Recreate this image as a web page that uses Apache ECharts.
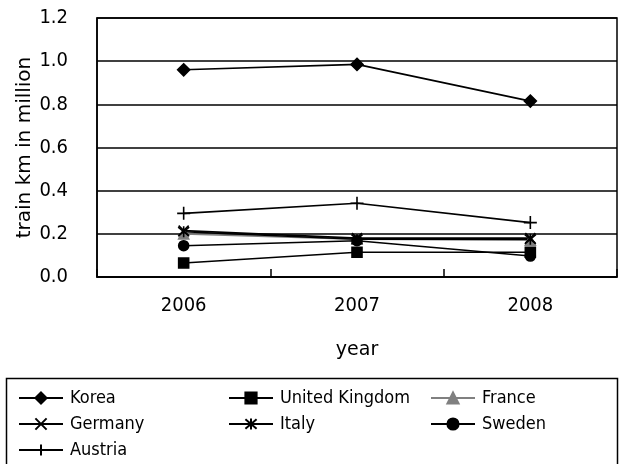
<!DOCTYPE html>
<html>
<head>
<meta charset="utf-8">
<script src="https://cdn.jsdelivr.net/npm/echarts@6/dist/echarts.min.js"></script>
<style>
  html, body { margin: 0; padding: 0; background: #fff; }
  #chart { width: 621px; height: 464px; }
</style>
</head>
<body>
<div id="chart"></div>
<script>
// Train-km (million) per country, 2006-2008
const years = ['2006', '2007', '2008'];
const korea = [0.96, 0.985, 0.815];
const unitedKingdom = [0.065, 0.115, 0.115];
const france = [0.2, 0.175, 0.17];
const germany = [0.215, 0.18, 0.18];
const italy = [0.21, 0.175, 0.175];
const sweden = [0.145, 0.168, 0.097];
const austria = [0.295, 0.342, 0.252];

const narrow = '"DejaVu Sans Condensed", "Liberation Sans", sans-serif';
const wide = '"DejaVu Sans", sans-serif';

const X_PATH = 'path://M0,0L10,10M0,10L10,0';
const STAR_PATH = 'path://M0,0L10,10M0,10L10,0M5,-1L5,11';
const PLUS_PATH = 'path://M0,5L10,5M5,0L5,10';

function lineSeries(name, data, symbol, size, color) {
  return {
    name: name,
    type: 'line',
    data: data,
    symbol: symbol,
    symbolSize: size,
    showAllSymbol: true,
    animation: false,
    lineStyle: { color: color, width: 1.6 },
    itemStyle: { color: color, borderColor: color, borderWidth: 1.6 },
    emphasis: { disabled: true }
  };
}

const series = [
  lineSeries('Korea', korea, 'diamond', 12, '#000'),
  lineSeries('United Kingdom', unitedKingdom, 'rect', 10, '#000'),
  lineSeries('France', france, 'triangle', 10, '#808080'),
  lineSeries('Germany', germany, X_PATH, 10, '#000'),
  lineSeries('Italy', italy, STAR_PATH, 11, '#000'),
  lineSeries('Sweden', sweden, 'circle', 10, '#000'),
  lineSeries('Austria', austria, PLUS_PATH, 13, '#000')
];

// legend slots: [name, left, top]
const legendSlots = [
  ['Korea', 18, 389],
  ['United Kingdom', 228, 389],
  ['France', 430, 389],
  ['Germany', 18, 415],
  ['Italy', 228, 415],
  ['Sweden', 430, 415],
  ['Austria', 18, 441]
];

const legends = legendSlots.map(function (s) {
  return {
    data: [s[0]],
    left: s[1],
    top: s[2],
    padding: 0,
    itemWidth: 44,
    itemHeight: 14,
    selectedMode: false,
    textStyle: { fontFamily: narrow, fontSize: 18, color: '#000', padding: [0, 0, 0, 2] }
  };
});

const chart = echarts.init(document.getElementById('chart'), null, { renderer: 'canvas' });
chart.setOption({
  backgroundColor: '#fff',
  animation: false,
  grid: {
    left: 97, right: 4, top: 18, bottom: 187,
    show: true, borderColor: '#000', borderWidth: 1.5, backgroundColor: 'transparent'
  },
  legend: legends,
  xAxis: {
    type: 'category',
    data: years,
    boundaryGap: true,
    name: 'year',
    nameLocation: 'middle',
    nameGap: 64,
    nameTextStyle: { fontFamily: wide, fontSize: 19, color: '#000' },
    axisLine: { lineStyle: { color: '#000', width: 1.5 } },
    axisTick: { show: true, inside: true, length: 8, lineStyle: { color: '#000', width: 1.5 } },
    axisLabel: { fontFamily: narrow, fontSize: 20, color: '#000', margin: 19 },
    splitLine: { show: false }
  },
  yAxis: {
    type: 'value',
    min: 0,
    max: 1.2,
    interval: 0.2,
    name: 'train km in million',
    nameLocation: 'middle',
    nameGap: 62,
    nameRotate: 90,
    nameMoveOverlap: false,
    nameTextStyle: { fontFamily: wide, fontSize: 20, color: '#000' },
    axisLine: { show: true, lineStyle: { color: '#000', width: 1.5 } },
    axisTick: { show: false },
    axisLabel: {
      fontFamily: narrow, fontSize: 20, color: '#000', margin: 29,
      formatter: function (v) { return v.toFixed(1); }
    },
    splitLine: { show: true, lineStyle: { color: '#000', width: 1.5 } }
  },
  graphic: [{
    type: 'rect',
    shape: { x: 6.5, y: 378.5, width: 611, height: 100 },
    style: { fill: 'none', stroke: '#000', lineWidth: 1.5 },
    z: -1
  }],
  series: series
});
</script>
</body>
</html>
